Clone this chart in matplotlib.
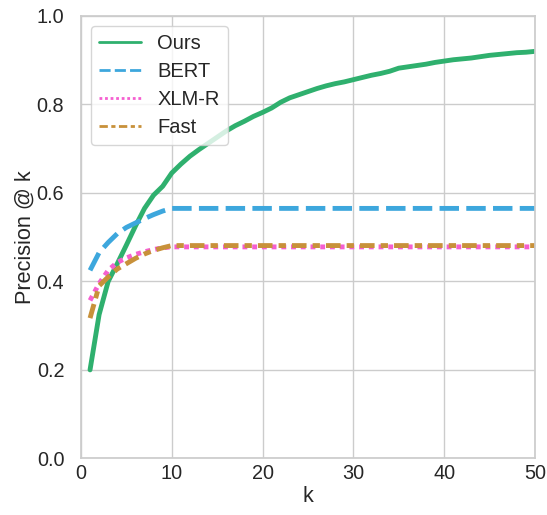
import numpy as np
import matplotlib
matplotlib.use("Agg")
import matplotlib.pyplot as plt
from matplotlib.lines import Line2D
import seaborn as sns

# precision @ k, k = 1..50
k = np.arange(1, 51)

ours = [0.200, 0.325, 0.400, 0.440, 0.482, 0.525, 0.565, 0.595, 0.615, 0.645,
        0.665, 0.683, 0.698, 0.712, 0.726, 0.740, 0.752, 0.762, 0.773, 0.782,
        0.792, 0.805, 0.815, 0.822, 0.829, 0.836, 0.842, 0.847, 0.851, 0.856,
        0.861, 0.866, 0.870, 0.875, 0.882, 0.885, 0.888, 0.891, 0.895, 0.898,
        0.901, 0.903, 0.905, 0.908, 0.911, 0.913, 0.915, 0.917, 0.918, 0.920]

bert = [0.425, 0.465, 0.488, 0.508, 0.522, 0.532, 0.542, 0.551, 0.559, 0.565] + [0.565] * 40
xlmr = [0.357, 0.395, 0.425, 0.443, 0.453, 0.461, 0.467, 0.472, 0.476, 0.478] + [0.478] * 40
fast = [0.317, 0.390, 0.410, 0.428, 0.440, 0.452, 0.462, 0.470, 0.476, 0.481] + [0.481] * 40

methods = ["Ours", "BERT", "XLM-R", "Fast"]
colors = ["#2fb06e", "#3da7dd", "#f55fd0", "#c8913a"]
# seaborn's default style dashes
dashes = [None, (4, 1.5), (1, 1), (3, 1.25, 1.5, 1.25)]

sns.set_theme(style="whitegrid", font_scale=1.3)
plt.rcParams['font.family'] = ['Liberation Sans', 'DejaVu Sans']
plt.rcParams['xtick.major.size'] = 0
plt.rcParams['xtick.major.pad'] = 4
plt.rcParams['ytick.major.pad'] = 6

fig, ax = plt.subplots(figsize=(5.47, 5.15), dpi=100)
handles = []
for name, vals, c, d in zip(methods, [ours, bert, xlmr, fast], colors, dashes):
    ls = "-" if d is None else (0, d)
    ax.plot(k, vals, color=c, lw=3.5, ls=ls)
    handles.append(Line2D([], [], color=c, lw=2, ls=ls, label=name))

ax.set_xlim(0, 50)
ax.set_ylim(0, 1.0)
ax.set_xlabel("k", labelpad=2)
ax.set_ylabel("Precision @ k", labelpad=1)
ax.legend(handles=handles, loc="upper left", fontsize=14.5, handlelength=2.1,
          labelspacing=0.45)

fig.subplots_adjust(left=0.148, right=0.978, top=0.969, bottom=0.11)
fig.savefig("out.png", dpi=100)
